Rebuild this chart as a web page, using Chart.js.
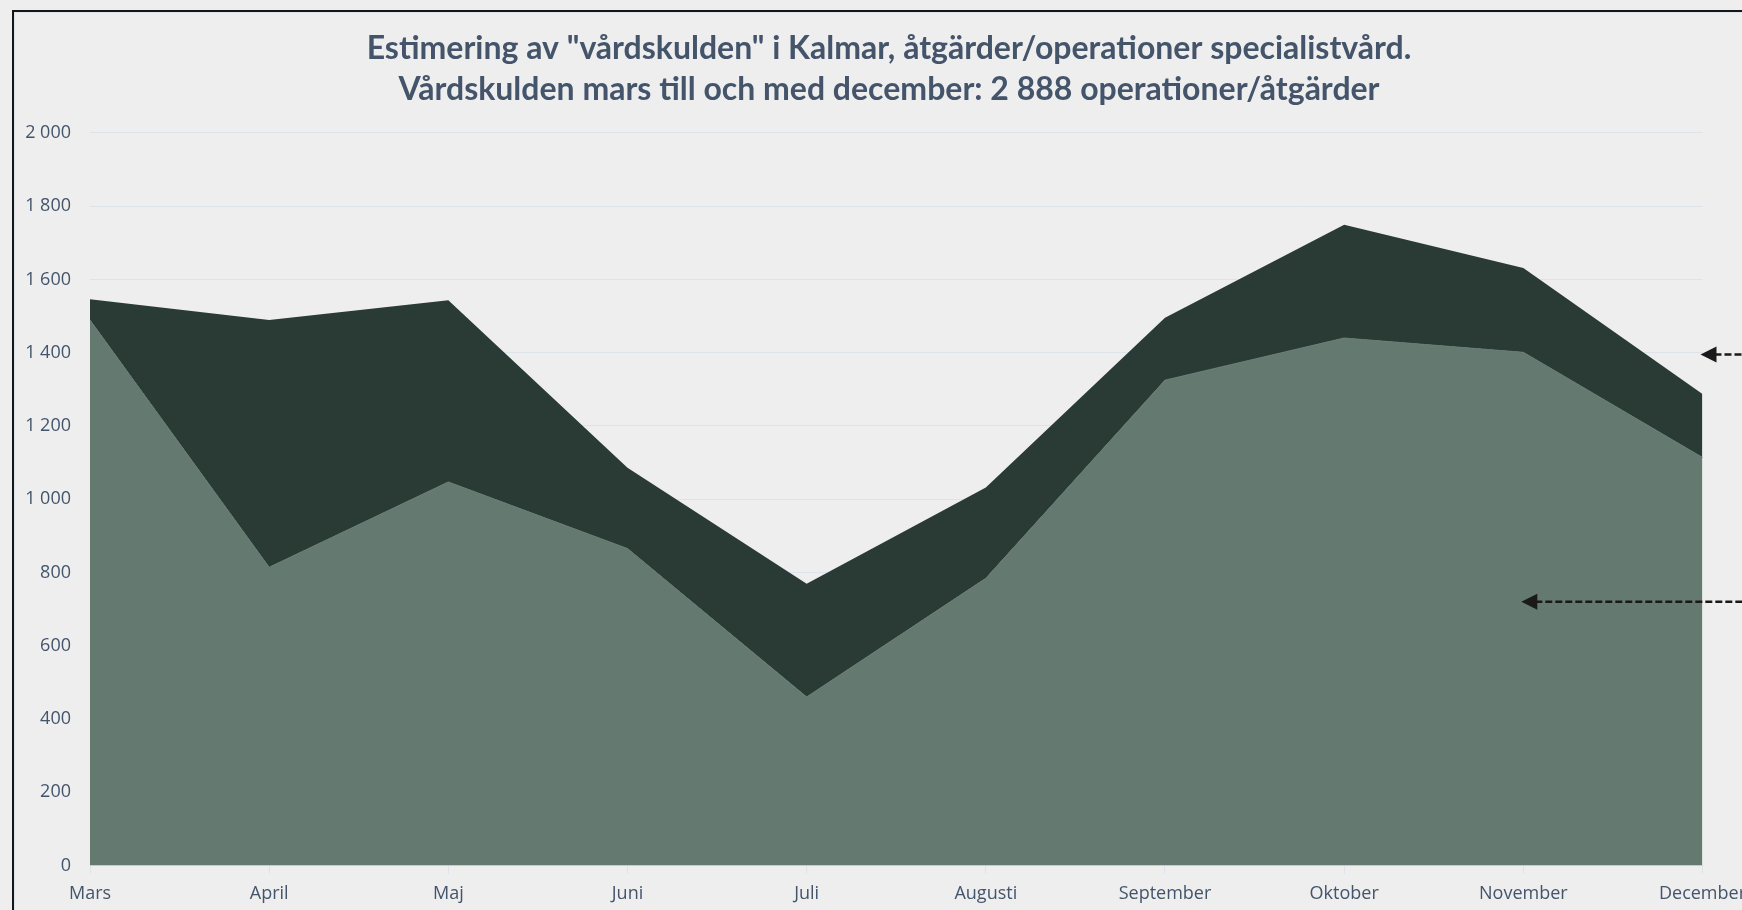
<!DOCTYPE html>
<html>
<head>
<meta charset="utf-8">
<script src="https://cdn.jsdelivr.net/npm/chart.js@4"></script>
<style>
    html, body {
        margin: 0;
        padding: 0;
        width: 1742px;
        height: 910px;
        overflow: hidden;
        background: #eeeeee;
    }
    .frame {
        position: absolute;
        left: 12px;
        top: 10px;
        width: 1800px;
        height: 1000px;
        border-left: 2px solid #161616;
        border-top: 2px solid #161616;
        box-shadow: inset 1px 1px 0 #dde4ec;
        background: #eeeeee;
    }
    #chart {
        position: absolute;
        left: 0;
        top: 0;
    }
</style>
</head>
<body>
<div class="frame">
    <canvas id="chart" width="1742" height="903" style="width:1742px;height:903px"></canvas>
</div>
<script>
// Data
const months = ['Mars', 'April', 'Maj', 'Juni', 'Juli', 'Augusti', 'September', 'Oktober', 'November', 'December'];
const utforda = [1489, 814, 1047, 865, 460, 784, 1325, 1440, 1401, 1114];
const vardskuld = [57, 675, 496, 221, 309, 248, 170, 309, 230, 173];
const yTicks = [0, 200, 400, 600, 800, 1000, 1200, 1400, 1600, 1800, 2000];

const titleLines = [
    'Estimering av "vårdskulden" i Kalmar, åtgärder/operationer specialistvård.',
    'Vårdskulden mars till och med december: 2 888 operationer/åtgärder'
];

// Arrows pointing in from the (cut off) annotations on the right
const arrows = [
    { index: 9, value: 1395 },
    { index: 8, value: 720 }
];

const textColor = '#44546a';
const gridColor = '#dde3ea';

function formatTick(v) {
    return String(v).replace(/\B(?=(\d{3})+(?!\d))/g, ' ');
}

const arrowPlugin = {
    id: 'arrows',
    afterDatasetsDraw(chart) {
        const ctx = chart.ctx;
        const x = chart.scales.x;
        const y = chart.scales.y;
        ctx.save();
        arrows.forEach(a => {
            const tipX = x.getPixelForValue(a.index) - 2;
            const tipY = y.getPixelForValue(a.value);
            ctx.strokeStyle = '#1a1a1a';
            ctx.fillStyle = '#1a1a1a';
            ctx.lineWidth = 2.5;
            ctx.setLineDash([7, 3]);
            ctx.beginPath();
            ctx.moveTo(tipX + 14, tipY);
            ctx.lineTo(chart.width, tipY);
            ctx.stroke();
            ctx.setLineDash([]);
            ctx.beginPath();
            ctx.moveTo(tipX, tipY);
            ctx.lineTo(tipX + 16, tipY - 8);
            ctx.lineTo(tipX + 16, tipY + 8);
            ctx.closePath();
            ctx.fill();
        });
        ctx.restore();
    }
};

const ctx = document.getElementById('chart').getContext('2d');
new Chart(ctx, {
    type: 'line',
    data: {
        labels: months,
        datasets: [
            {
                label: 'Utförda',
                data: utforda,
                backgroundColor: '#647a70',
                borderColor: '#647a70',
                borderWidth: 1,
                pointRadius: 0,
                tension: 0,
                fill: 'origin'
            },
            {
                label: 'Vårdskuld',
                data: vardskuld,
                backgroundColor: '#2a3b35',
                borderColor: '#2a3b35',
                borderWidth: 0,
                pointRadius: 0,
                tension: 0,
                fill: '-1'
            }
        ]
    },
    options: {
        responsive: false,
        animation: false,
        layout: {
            padding: { left: 10, right: 2, top: 0, bottom: 0 }
        },
        scales: {
            x: {
                offset: false,
                grid: {
                    drawOnChartArea: false,
                    drawTicks: true,
                    tickLength: 8,
                    color: gridColor
                },
                border: { display: true, color: '#cfd6de' },
                ticks: {
                    color: textColor,
                    padding: 10,
                    maxRotation: 0,
                    autoSkip: false,
                    font: { family: 'Open Sans', size: 18 }
                }
            },
            y: {
                stacked: true,
                min: 0,
                max: 2000,
                afterFit(scale) { scale.width = 66; },
                afterBuildTicks(scale) { scale.ticks = yTicks.map(v => ({ value: v })); },
                grid: {
                    drawTicks: false,
                    color: gridColor
                },
                border: { display: false },
                ticks: {
                    color: textColor,
                    padding: 19,
                    font: { family: 'Open Sans', size: 18 },
                    callback: v => formatTick(v)
                }
            }
        },
        plugins: {
            legend: { display: false },
            tooltip: { enabled: false },
            title: {
                display: true,
                text: titleLines,
                color: textColor,
                font: { family: 'Lato', size: 32, weight: 'bold', lineHeight: 1.28 },
                padding: { top: 16, bottom: 23 }
            }
        }
    },
    plugins: [arrowPlugin]
});
</script>
</body>
</html>
